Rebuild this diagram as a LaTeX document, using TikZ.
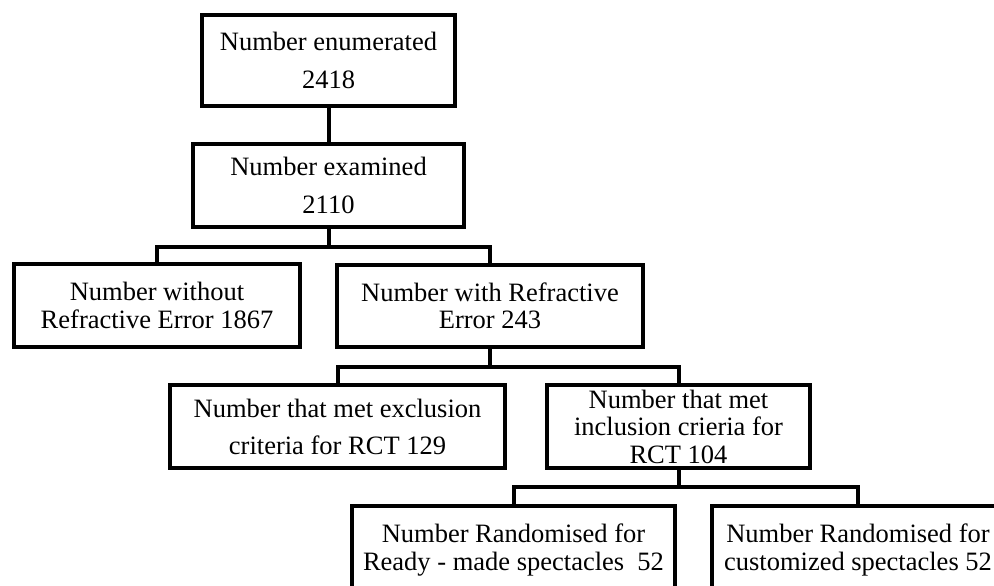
\documentclass[tikz,border=0pt]{standalone}
\usepackage{fontspec}
\setmainfont{Liberation Serif}
\usetikzlibrary{positioning}
\tikzset{
  stage/.style={draw=black,line width=4pt,minimum width=#1,minimum height=83pt,inner sep=0pt,
                align=center,font=\fontsize{26.5}{27.5}\selectfont},
  stage/.default=280pt,
  link/.style={draw=black,line width=4pt},
}

\begin{document}
\begin{tikzpicture}[x=1pt,y=-1pt]
  \useasboundingbox (0,0) rectangle (994,586);
  \clip (0,0) rectangle (994,586);
  \node[stage=253pt,minimum height=91pt] (enum) at (328.5,60.5) {Number enumerated\\[11pt]2418};
  \node[stage=271pt] (exam) at (328.5,185.5) {Number examined\\[11pt]2110};
  \node[stage=286pt] (noerr) at (157,305.5) {Number without\\Refractive Error 1867};
  \node[stage=306pt,minimum height=82pt] (err) at (490,306) {Number with Refractive\\Error 243};
  \node[stage=335pt] (excl) at (337.5,426.5) {Number that met exclusion\\[9.5pt]criteria for RCT 129};
  \node[stage=263pt] (incl) at (678.5,426.5) {Number that met\\inclusion crieria for\\RCT 104};
  \node[stage=323pt,minimum height=88pt] (ready) at (513.5,550) {Number Randomised for\\Ready - made spectacles~ 52};
  \node[stage=292pt,minimum height=88pt] (custom) at (858,550) {Number Randomised for\\customized spectacles 52};
  % tree links
  \draw[link] (enum.south) -- (exam.north);
  \draw[link] (exam.south) -- ++(0,18) coordinate (j1);
  \draw[link] (noerr.north) |- (j1) -| (err.north);
  \draw[link] (err.south) -- ++(0,18) coordinate (j2);
  \draw[link] (excl.north) |- (j2) -| (incl.north);
  \draw[link] (incl.south) -- ++(0,17) coordinate (j3);
  \draw[link] (ready.north) |- (j3) -| (custom.north);
\end{tikzpicture}
\end{document}
